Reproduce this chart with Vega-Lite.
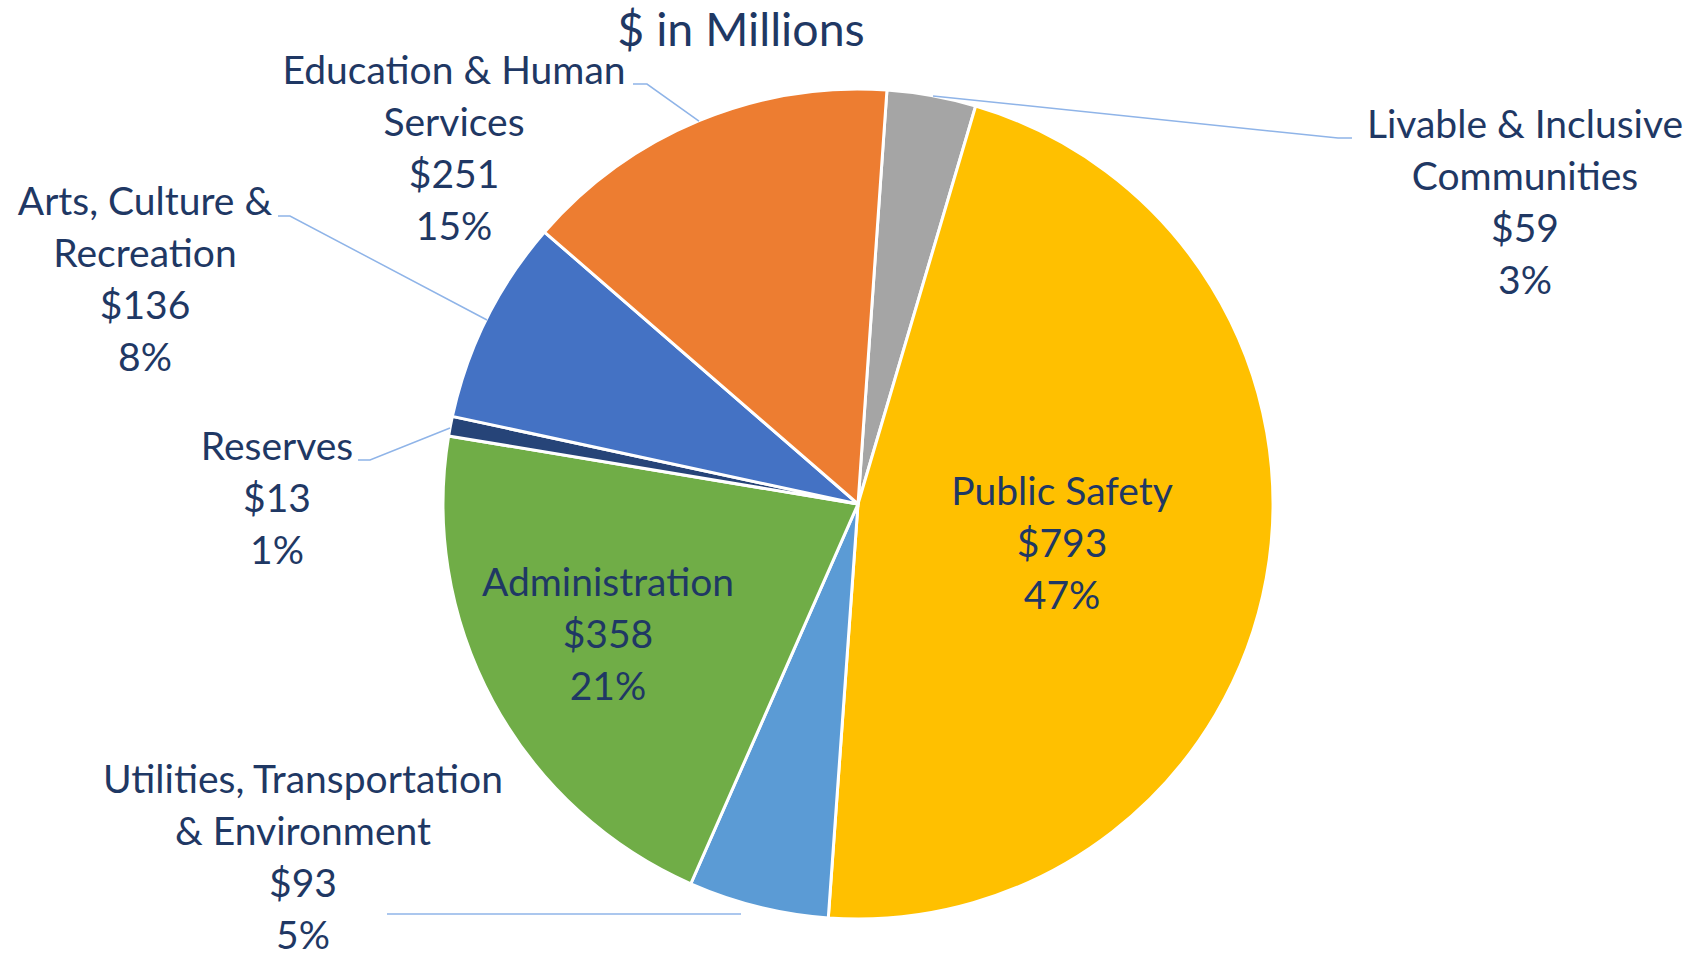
{
  "$schema": "https://vega.github.io/schema/vega-lite/v6.json",
  "width": 1684,
  "height": 900,
  "autosize": {"type": "none"},
  "padding": {"left": 16, "top": 54, "right": 1, "bottom": 0},
  "background": "#ffffff",
  "config": {"view": {"stroke": null}},
  "datasets": {
    "slices": [
      {"category": "Livable & Inclusive Communities", "value": 59, "order": 1},
      {"category": "Public Safety", "value": 793, "order": 2},
      {"category": "Utilities, Transportation & Environment", "value": 93, "order": 3},
      {"category": "Administration", "value": 358, "order": 4},
      {"category": "Reserves", "value": 13, "order": 5},
      {"category": "Arts, Culture & Recreation", "value": 136, "order": 6},
      {"category": "Education & Human Services", "value": 251, "order": 7}
    ],
    "labels": [
      {"label": "Livable & Inclusive\nCommunities\n$59\n3%", "u": 1.6111, "v": 0.8841},
      {"label": "Public Safety\n$793\n47%", "u": 0.4928, "v": -0.0024},
      {"label": "Utilities, Transportation\n& Environment\n$93\n5%", "u": -1.3406, "v": -0.6981},
      {"label": "Administration\n$358\n21%", "u": -0.6039, "v": -0.2222},
      {"label": "Reserves\n$13\n1%", "u": -1.4034, "v": 0.1063},
      {"label": "Arts, Culture &\nRecreation\n$136\n8%", "u": -1.7222, "v": 0.6981},
      {"label": "Education & Human\nServices\n$251\n15%", "u": -0.9758, "v": 1.0145}
    ],
    "leaders": [
      {"g": "edu", "i": 0, "u": -0.5435, "v": 1.0145},
      {"g": "edu", "i": 1, "u": -0.5097, "v": 1.0145},
      {"g": "edu", "i": 2, "u": -0.3841, "v": 0.9251},
      {"g": "arts", "i": 0, "u": -1.4010, "v": 0.6957},
      {"g": "arts", "i": 1, "u": -1.3720, "v": 0.6957},
      {"g": "arts", "i": 2, "u": -0.8961, "v": 0.4444},
      {"g": "res", "i": 0, "u": -1.2077, "v": 0.1063},
      {"g": "res", "i": 1, "u": -1.1787, "v": 0.1063},
      {"g": "res", "i": 2, "u": -0.9855, "v": 0.1836},
      {"g": "util", "i": 0, "u": -1.1377, "v": -0.9903},
      {"g": "util", "i": 1, "u": -0.2826, "v": -0.9903},
      {"g": "liv", "i": 0, "u": 0.1812, "v": 0.9855},
      {"g": "liv", "i": 1, "u": 1.1594, "v": 0.8841},
      {"g": "liv", "i": 2, "u": 1.1932, "v": 0.8841}
    ],
    "title": [
      {"label": "$ in Millions", "u": -0.2826, "v": 1.1063}
    ]
  },
  "layer": [
    {
      "data": {"name": "slices"},
      "mark": {"type": "arc", "outerRadius": 415, "stroke": "#ffffff", "strokeWidth": 3},
      "encoding": {
        "theta": {"field": "value", "type": "quantitative", "stack": true, "scale": {"range": [0.0698, 6.353]}},
        "order": {"field": "order", "type": "quantitative"},
        "color": {
          "field": "category",
          "type": "nominal",
          "legend": null,
          "scale": {
            "domain": ["Livable & Inclusive Communities", "Public Safety", "Utilities, Transportation & Environment", "Administration", "Reserves", "Arts, Culture & Recreation", "Education & Human Services"],
            "range": ["#A5A5A5", "#FFC000", "#5B9BD5", "#70AD47", "#264478", "#4472C4", "#ED7D31"]
          }
        }
      }
    },
    {
      "data": {"name": "leaders"},
      "mark": {"type": "line", "color": "#8FB4E8", "strokeWidth": 1.5, "interpolate": "linear"},
      "encoding": {
        "x": {"field": "u", "type": "quantitative", "axis": null, "scale": {"domain": [-2.0338, 2.0338], "nice": false, "zero": false}},
        "y": {"field": "v", "type": "quantitative", "axis": null, "scale": {"domain": [-1.087, 1.087], "nice": false, "zero": false}},
        "detail": {"field": "g", "type": "nominal"},
        "order": {"field": "i", "type": "quantitative"}
      }
    },
    {
      "data": {"name": "labels"},
      "mark": {"type": "text", "font": "Lato", "fontSize": 39, "lineHeight": 52, "lineBreak": "\n", "align": "center", "baseline": "alphabetic", "color": "#1F3864"},
      "encoding": {
        "x": {"field": "u", "type": "quantitative", "axis": null, "scale": {"domain": [-2.0338, 2.0338], "nice": false, "zero": false}},
        "y": {"field": "v", "type": "quantitative", "axis": null, "scale": {"domain": [-1.087, 1.087], "nice": false, "zero": false}},
        "text": {"field": "label", "type": "nominal"}
      }
    },
    {
      "data": {"name": "title"},
      "mark": {"type": "text", "font": "Lato", "fontSize": 46.5, "align": "center", "baseline": "alphabetic", "color": "#1F3864"},
      "encoding": {
        "x": {"field": "u", "type": "quantitative", "axis": null, "scale": {"domain": [-2.0338, 2.0338], "nice": false, "zero": false}},
        "y": {"field": "v", "type": "quantitative", "axis": null, "scale": {"domain": [-1.087, 1.087], "nice": false, "zero": false}},
        "text": {"field": "label", "type": "nominal"}
      }
    }
  ]
}
